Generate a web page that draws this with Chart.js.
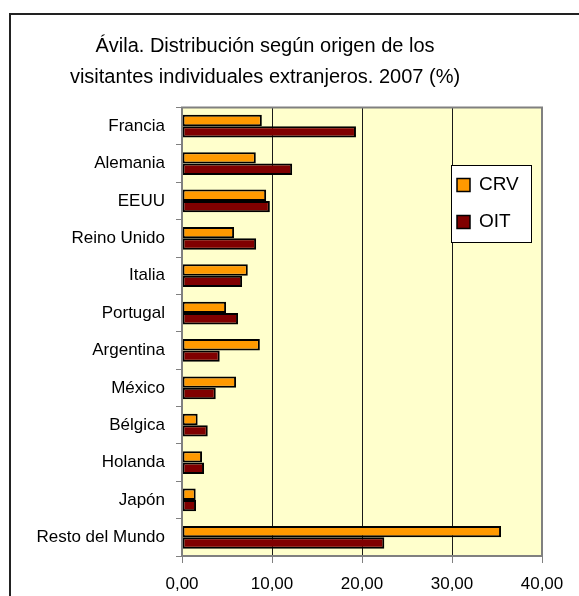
<!DOCTYPE html>
<html>
<head>
<meta charset="utf-8">
<script src="https://cdn.jsdelivr.net/npm/chart.js@4/dist/chart.umd.min.js"></script>
<style>
  html, body { margin: 0; padding: 0; background: #fff; }
  #wrap { position: relative; width: 579px; height: 596px; overflow: hidden; }
  #frame { position: absolute; left: 9px; top: 13px; width: 620px; height: 620px;
           border-left: 2px solid #222; border-top: 2px solid #222; }
  canvas { position: absolute; left: 0; top: 0; }
</style>
</head>
<body>
<div id="wrap">
  <div id="frame"></div>
  <canvas id="chart" width="579" height="596"></canvas>
</div>
<script>
var categorias = ["Francia", "Alemania", "EEUU", "Reino Unido", "Italia", "Portugal",
  "Argentina", "México", "Bélgica", "Holanda", "Japón", "Resto del Mundo"];
var crv = [8.87, 8.20, 9.35, 5.79, 7.31, 4.90, 8.65, 6.01, 1.74, 2.23, 1.52, 35.45];
var oit = [19.33, 12.24, 9.76, 8.24, 6.68, 6.23, 4.19, 3.75, 2.86, 2.45, 1.56, 22.48];
var ejeX = [0, 10, 20, 30, 40];
var titulo = ["Ávila. Distribución según origen de los",
  "visitantes individuales extranjeros. 2007 (%)"];

var fuente = "'Liberation Sans', Arial, sans-serif";

// fondo amarillo del area de trazado
var fondoPlot = {
  id: "fondoPlot",
  beforeDraw: function (chart) {
    var a = chart.chartArea, ctx = chart.ctx;
    ctx.save();
    ctx.fillStyle = "#FFFFCC";
    ctx.fillRect(a.left, a.top, a.right - a.left, a.bottom - a.top);
    ctx.restore();
  }
};

// titulo en dos lineas, centrado como en el original
var tituloPlot = {
  id: "tituloPlot",
  afterDraw: function (chart) {
    var ctx = chart.ctx;
    ctx.save();
    ctx.font = "20px " + fuente;
    ctx.fillStyle = "#000";
    ctx.textAlign = "center";
    ctx.textBaseline = "middle";
    titulo.forEach(function (t, i) {
      ctx.fillText(t, 265, 46.5 + i * 31);
    });
    ctx.restore();
  }
};

// borde gris + leyenda dentro del grafico
var leyendaDentro = {
  id: "leyendaDentro",
  afterDraw: function (chart) {
    var a = chart.chartArea, ctx = chart.ctx;
    ctx.save();
    ctx.strokeStyle = "#808080";
    ctx.lineWidth = 2;
    ctx.strokeRect(a.left, a.top, a.right - a.left, a.bottom - a.top);

    var bx = a.right - 91, by = a.top + 57.5, bw = 80, bh = 77;
    ctx.fillStyle = "#fff";
    ctx.fillRect(bx, by, bw, bh);
    ctx.strokeStyle = "#000";
    ctx.lineWidth = 1;
    ctx.strokeRect(bx + 0.5, by + 0.5, bw, bh);

    ctx.font = "19px " + fuente;
    ctx.textBaseline = "middle";
    chart.data.datasets.forEach(function (ds, i) {
      var cy = by + 20 + i * 37;
      ctx.fillStyle = ds.backgroundColor;
      ctx.fillRect(bx + 6, cy - 6.5, 13, 13);
      ctx.strokeStyle = "#000";
      ctx.lineWidth = 1.5;
      ctx.strokeRect(bx + 6, cy - 6.5, 13, 13);
      ctx.fillStyle = "#000";
      ctx.fillText(ds.label, bx + 28, cy);
    });
    ctx.restore();
  }
};

new Chart("chart", {
  type: "bar",
  data: {
    labels: categorias,
    datasets: [
      {
        label: "CRV",
        data: crv,
        backgroundColor: "#FF9900",
        borderColor: "#000",
        borderWidth: 2,
        borderSkipped: false,
        barPercentage: 1,
        categoryPercentage: 0.61
      },
      {
        label: "OIT",
        data: oit,
        backgroundColor: "#800000",
        borderColor: "#000",
        borderWidth: 2,
        borderSkipped: false,
        barPercentage: 1,
        categoryPercentage: 0.61
      }
    ]
  },
  options: {
    indexAxis: "y",
    responsive: false,
    animation: false,
    layout: { padding: { top: 107.5, right: 37, bottom: 0, left: 0 } },
    plugins: {
      legend: { display: false },
      tooltip: { enabled: false },
      title: { display: false }
    },
    scales: {
      x: {
        min: ejeX[0],
        max: ejeX[ejeX.length - 1],
        afterBuildTicks: function (scale) {
          scale.ticks = ejeX.map(function (v) { return { value: v }; });
        },
        afterFit: function (scale) { scale.height = 40; },
        ticks: {
          color: "#000",
          padding: 11,
          font: { family: fuente, size: 17 },
          callback: function (v) { return Number(v).toFixed(2).replace(".", ","); }
        },
        grid: {
          color: function (c) {
            var v = c.tick ? c.tick.value : 0;
            return (v === ejeX[0] || v === ejeX[ejeX.length - 1]) ? "#808080" : "#1a1a1a";
          },
          lineWidth: 1,
          tickLength: 7,
          tickColor: "#808080"
        },
        border: { display: true, color: "#808080", width: 2 }
      },
      y: {
        afterFit: function (scale) { scale.width = 182; },
        ticks: {
          color: "#000",
          padding: 11,
          font: { family: fuente, size: 17 }
        },
        grid: {
          drawOnChartArea: false,
          offset: true,
          tickLength: 6,
          tickColor: "#808080"
        },
        border: { display: true, color: "#808080", width: 2 }
      }
    }
  },
  plugins: [fondoPlot, tituloPlot, leyendaDentro]
});
</script>
</body>
</html>
